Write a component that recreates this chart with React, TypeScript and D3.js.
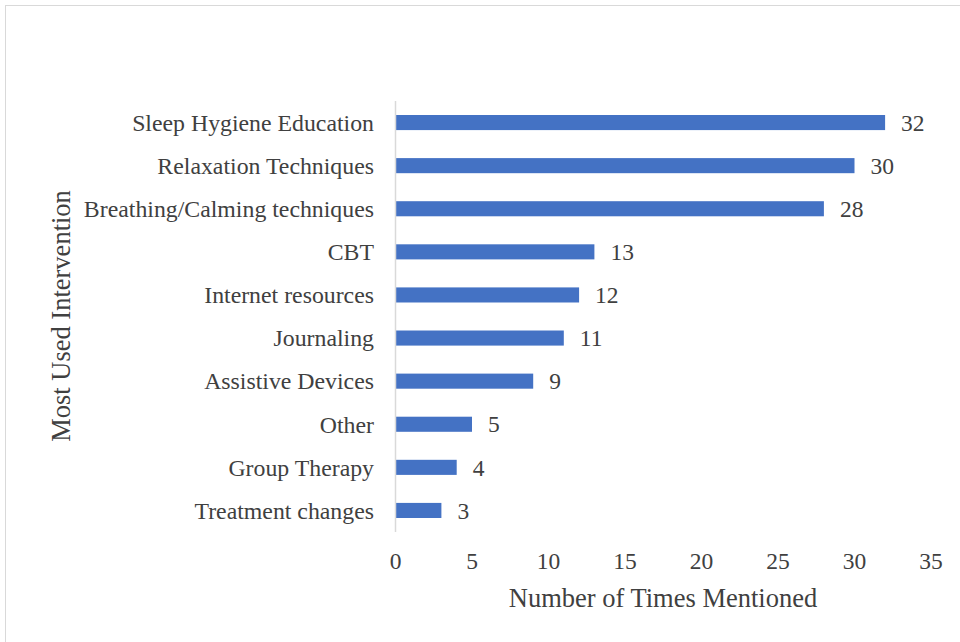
import React from "react";
import * as d3 from "d3";

const categories = [
  "Sleep Hygiene Education",
  "Relaxation Techniques",
  "Breathing/Calming techniques",
  "CBT",
  "Internet resources",
  "Journaling",
  "Assistive Devices",
  "Other",
  "Group Therapy ",
  "Treatment changes",
];
const values = [32, 30, 28, 13, 12, 11, 9, 5, 4, 3];
const xTicks = [0, 5, 10, 15, 20, 25, 30, 35];
const xTitle = "Number of Times Mentioned";
const yTitle = "Most Used Intervention";

export default function App() {
  const W = 960, H = 642;
  const x = d3.scaleLinear().domain([0, 35]).range([395.5, 931]);
  const y = d3.scaleBand<string>().domain(categories).range([101, 532]).paddingInner(0.65).paddingOuter(0.325);
  const font = "'Liberation Serif', 'Times New Roman', serif";
  const txt = "#404040";
  return (
    <svg width={W} height={H} style={{ position: "absolute", left: 0, top: 0 }} fontFamily={font}>
      <rect x={0} y={0} width={W} height={H} fill="#fff" />
      <rect x={5.5} y={5.5} width={W + 10} height={H + 10} fill="none" stroke="#d9d9d9" strokeWidth={1} />
      {categories.map((c, i) => (
        <g key={c}>
          <rect x={x(0)} y={y(c)!} width={x(values[i]) - x(0)} height={y.bandwidth()} fill="#4472C4" />
          <text x={374} y={y(c)! + y.bandwidth() / 2} dy="0.35em" textAnchor="end" fontSize={23.8} fill={txt}>{c}</text>
          <text x={x(values[i]) + 16} y={y(c)! + y.bandwidth() / 2} dy="0.35em" fontSize={23.5} fill={txt}>{values[i]}</text>
        </g>
      ))}
      <line x1={395.5} x2={395.5} y1={101} y2={532} stroke="#d9d9d9" strokeWidth={1.5} />
      {xTicks.map((t) => (
        <text key={t} x={x(t)} y={561} dy="0.35em" textAnchor="middle" fontSize={23.5} fill={txt}>{t}</text>
      ))}
      <text x={663} y={598} dy="0.35em" textAnchor="middle" fontSize={26.5} fill={txt}>{xTitle}</text>
      <text transform={`translate(61,316) rotate(-90)`} dy="0.35em" textAnchor="middle" fontSize={26.5} fill={txt}>{yTitle}</text>
    </svg>
  );
}
